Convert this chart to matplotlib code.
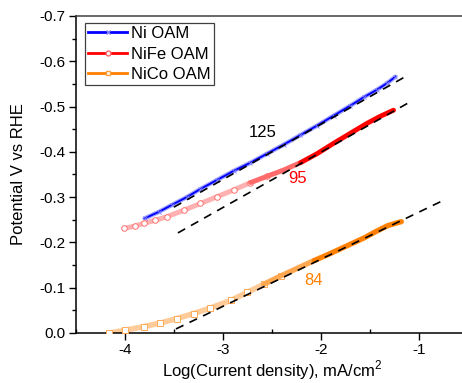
import numpy as np
import matplotlib
matplotlib.use("Agg")
import matplotlib.pyplot as plt
from matplotlib.lines import Line2D
from matplotlib.ticker import MultipleLocator, FormatStrFormatter

plt.rcParams.update({
    "font.family": "Liberation Sans",
    "mathtext.fontset": "custom",
    "mathtext.rm": "Liberation Sans",
    "axes.unicode_minus": False,
    "font.size": 12,
})

# ---------------- data ----------------
ni_x = [-3.80, -3.65, -3.52, -3.37, -3.23, -3.06, -2.89, -2.72, -2.55, -2.38,
        -2.21, -2.04, -1.87, -1.70, -1.56, -1.43, -1.33, -1.24]
ni_y = [-0.253, -0.268, -0.283, -0.300, -0.318, -0.338, -0.358, -0.376, -0.396, -0.416,
        -0.437, -0.458, -0.480, -0.502, -0.521, -0.537, -0.551, -0.566]

nife_x = [-4.01, -3.90, -3.81, -3.69, -3.57, -3.40, -3.23, -3.06, -2.89, -2.72,
          -2.55, -2.38, -2.21, -2.04, -1.87, -1.70, -1.53, -1.40, -1.26]
nife_y = [-0.231, -0.236, -0.242, -0.249, -0.257, -0.271, -0.286, -0.301, -0.316, -0.332,
          -0.346, -0.360, -0.376, -0.396, -0.419, -0.441, -0.463, -0.478, -0.492]

nico_x = [-4.16, -4.00, -3.81, -3.64, -3.47, -3.30, -3.13, -2.92, -2.75, -2.58,
          -2.41, -2.24, -2.07, -1.90, -1.73, -1.56, -1.44, -1.32, -1.18]
nico_y = [0.000, -0.006, -0.014, -0.022, -0.032, -0.043, -0.055, -0.072, -0.090, -0.108,
          -0.126, -0.143, -0.160, -0.176, -0.193, -0.210, -0.224, -0.237, -0.246]

# Tafel fit lines (start, end)
fit_x = {"Ni": [-3.50, -1.14], "NiFe": [-3.46, -1.11], "NiCo": [-3.48, -0.76]}
fit_y = {"Ni": [-0.278, -0.566], "NiFe": [-0.221, -0.508], "NiCo": [-0.009, -0.292]}

slopes = ["125", "95", "84"]
slope_pos = [(-2.59, -0.443), (-2.24, -0.341), (-2.08, -0.117)]

BLUE = "#0000ff"
RED = "#ff0000"
ORANGE = "#ff8000"

fig = plt.figure(figsize=(4.62, 3.83), dpi=100)
ax = fig.add_axes([76/462, 50/383, 392/462, 317/383])

# Ni OAM: blue line with light fringe of markers
ax.plot(ni_x, ni_y, "-", color="#a8a8ff", lw=3.2, solid_capstyle="round", zorder=2)
ax.plot(ni_x, ni_y, "-", color=BLUE, lw=1.4, zorder=3)
ax.plot(ni_x, ni_y, "none", marker="x", ms=3, mec="#8080ff", mew=0.6, zorder=3)

# NiFe OAM: pale open circles, dense (solid) at high current
ax.plot(nife_x, nife_y, "-", color="#ffb0b0", lw=3.6, solid_capstyle="round", zorder=2)
ax.plot(nife_x[:11], nife_y[:11], "none", marker="o", ms=4, mfc="white",
        mec="#ff7070", mew=0.7, zorder=3)
ax.plot(nife_x[9:13], nife_y[9:13], "-", color="#ff6a6a", lw=3.4,
        solid_capstyle="round", zorder=3)
ax.plot(nife_x[12:], nife_y[12:], "-", color=RED, lw=3.4,
        solid_capstyle="round", zorder=3)

# NiCo OAM: pale open squares, dense (solid) at high current
ax.plot(nico_x, nico_y, "-", color="#ffcc99", lw=4.0, solid_capstyle="round", zorder=2)
ax.plot(nico_x[:11], nico_y[:11], "none", marker="s", ms=3.8, mfc="white",
        mec="#ffaa55", mew=0.7, zorder=3)
ax.plot(nico_x[9:13], nico_y[9:13], "-", color="#ffa850", lw=3.6,
        solid_capstyle="round", zorder=3)
ax.plot(nico_x[12:], nico_y[12:], "-", color=ORANGE, lw=3.6,
        solid_capstyle="round", zorder=3)

for k in ["Ni", "NiFe", "NiCo"]:
    ax.plot(fit_x[k], fit_y[k], color="black", lw=1.2, dashes=(5, 4), zorder=4)

for txt, (x, y), c in zip(slopes, slope_pos, ["black", RED, ORANGE]):
    ax.text(x, y, txt, color=c, fontsize=12, ha="center", va="center")

ax.set_xlim(-4.5, -0.5)
ax.set_ylim(0, -0.7)
ax.xaxis.set_major_locator(MultipleLocator(1))
ax.xaxis.set_minor_locator(MultipleLocator(0.5))
ax.yaxis.set_major_locator(MultipleLocator(0.1))
ax.yaxis.set_minor_locator(MultipleLocator(0.05))
ax.yaxis.set_major_formatter(FormatStrFormatter("%.1f"))
ax.xaxis.set_major_formatter(FormatStrFormatter("%d"))
ax.tick_params(axis="both", which="major", direction="out", length=5,
               width=1, labelsize=11, pad=2.5)
ax.tick_params(axis="y", which="minor", direction="out", length=3, width=1)
ax.tick_params(axis="x", which="minor", direction="in", length=3, width=1)
for s in ax.spines.values():
    s.set_linewidth(1.1)
ax.spines["top"].set_color("#404040")

ax.set_ylabel("Potential V vs RHE", fontsize=12, labelpad=10)
ax.set_xlabel("Log(Current density), mA/cm$^2$", fontsize=12, labelpad=1)

handles = [
    Line2D([], [], color=BLUE, lw=2, marker="x", ms=3, mec="#8080ff"),
    Line2D([], [], color=RED, lw=2, marker="o", ms=3.5, mfc="white", mec="#ff6060"),
    Line2D([], [], color=ORANGE, lw=2, marker="s", ms=3.5, mfc="white", mec="#ffa040"),
]
leg = ax.legend(handles, ["Ni OAM", "NiFe OAM", "NiCo OAM"], loc="upper left",
                bbox_to_anchor=(0.023, 0.978), borderaxespad=0, fontsize=12,
                handlelength=2.3, handletextpad=0.25, labelspacing=0.32,
                borderpad=0.2, fancybox=False, framealpha=1, numpoints=1)
leg.get_frame().set_edgecolor("#404040")
leg.get_frame().set_linewidth(0.9)

fig.savefig("out.png", dpi=100)
